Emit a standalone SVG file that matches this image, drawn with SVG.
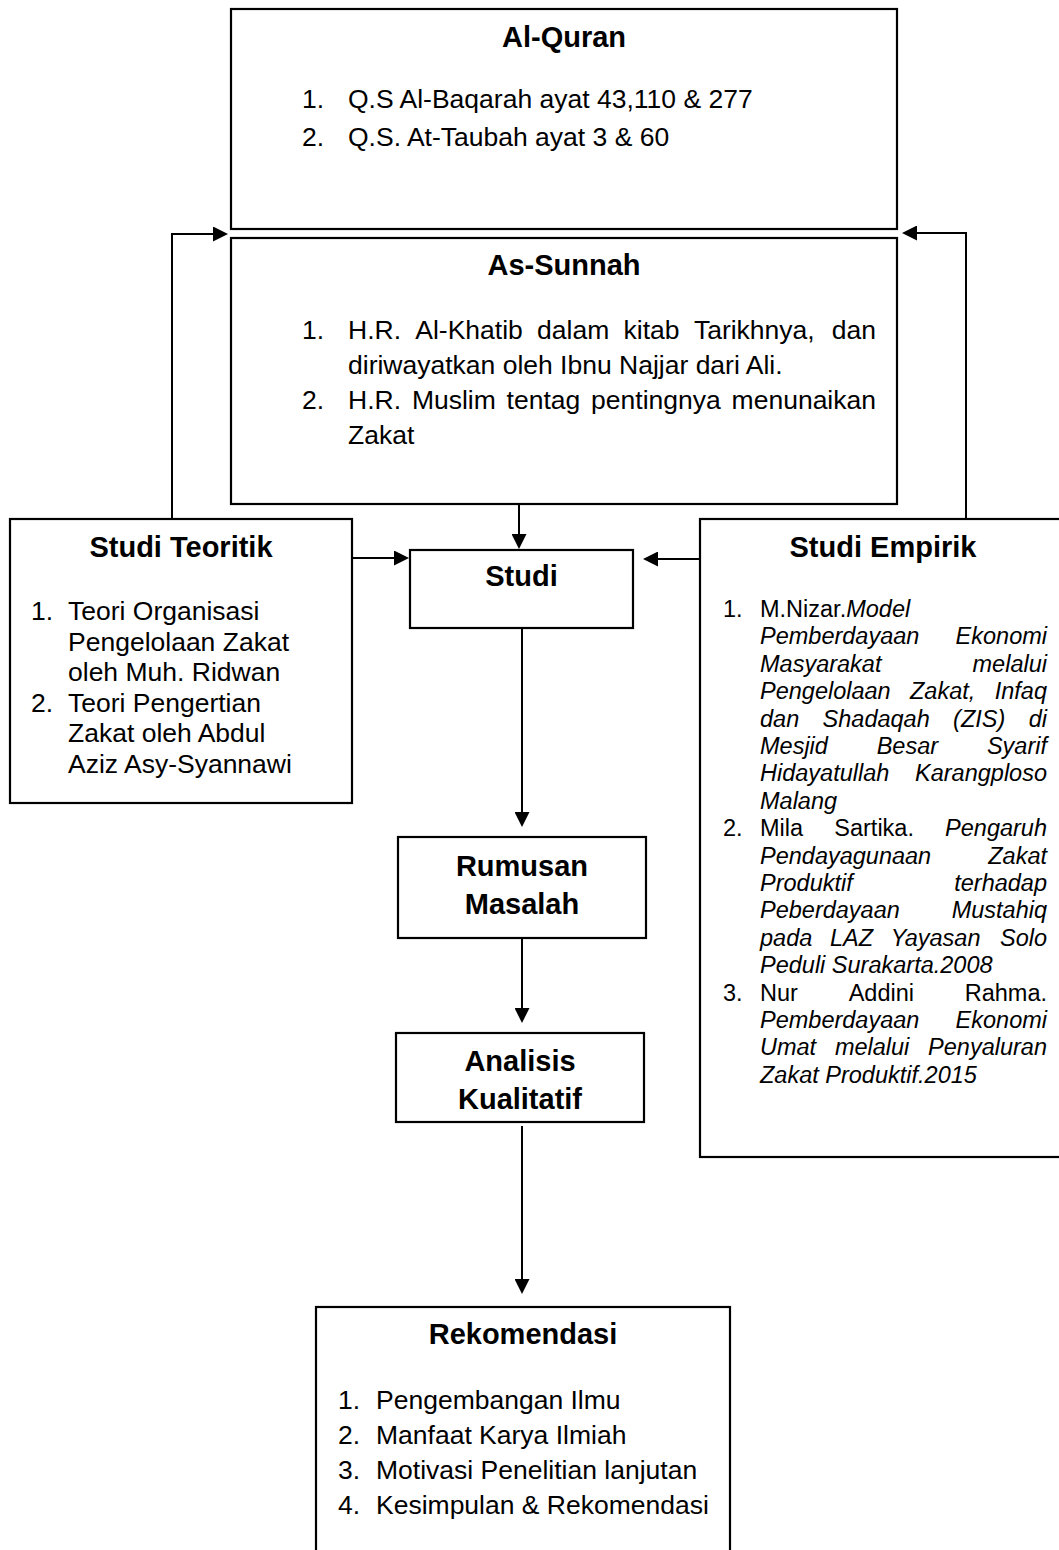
<svg xmlns="http://www.w3.org/2000/svg" width="1059" height="1550" viewBox="0 0 1059 1550">
<style>
text{font-family:"Liberation Sans",Arial,sans-serif;fill:#000}
.t{font-size:29px;font-weight:bold;text-anchor:middle}
.b{font-size:26.5px}
.s{font-size:23.5px}
.i{font-style:italic}
.e{text-anchor:end}
rect{fill:#fff;stroke:#000;stroke-width:2.2}
.c path{fill:none;stroke:#000;stroke-width:2;marker-end:url(#ah)}
</style>
<defs>
<marker id="ah" viewBox="0 0 15 15" refX="12" refY="7.5" markerWidth="15" markerHeight="15" markerUnits="userSpaceOnUse" orient="auto">
<path d="M0,0 L15,7.5 L0,15 z" fill="#000"/>
</marker>
</defs>
<rect x="0" y="0" width="1059" height="1550" style="stroke:none"/>

<g id="alquran">
<rect x="231" y="9" width="666" height="220"/>
<text class="t" x="564" y="47">Al-Quran</text>
<text class="b" x="302" y="108">1.</text>
<text class="b" x="348" y="108">Q.S Al-Baqarah ayat 43,110 &amp; 277</text>
<text class="b" x="302" y="146">2.</text>
<text class="b" x="348" y="146">Q.S. At-Taubah ayat 3 &amp; 60</text>
</g>

<g id="assunnah">
<rect x="231" y="238" width="666" height="266"/>
<text class="t" x="564" y="275">As-Sunnah</text>
<text class="b" x="302" y="339">1.</text>
<text class="b" y="339"><tspan x="348">H.R.</tspan><tspan x="415.3">Al-Khatib</tspan><tspan x="537.1">dalam</tspan><tspan x="623.6">kitab</tspan><tspan x="693.9">Tarikhnya,</tspan><tspan x="876" text-anchor="end">dan</tspan></text>
<text class="b" x="348" y="374">diriwayatkan oleh Ibnu Najjar dari Ali.</text>
<text class="b" x="302" y="409">2.</text>
<text class="b" y="409"><tspan x="348">H.R.</tspan><tspan x="411.9">Muslim</tspan><tspan x="506.6">tentag</tspan><tspan x="591.1">pentingnya</tspan><tspan x="876" text-anchor="end">menunaikan</tspan></text>
<text class="b" x="348" y="444">Zakat</text>
</g>

<g id="studi-teoritik">
<rect x="10" y="519" width="342" height="284"/>
<text class="t" x="181" y="557">Studi Teoritik</text>
<text class="b" x="31" y="620">1.</text>
<text class="b" x="68" y="620">Teori Organisasi</text>
<text class="b" x="68" y="651">Pengelolaan Zakat</text>
<text class="b" x="68" y="681">oleh Muh. Ridwan</text>
<text class="b" x="31" y="712">2.</text>
<text class="b" x="68" y="712">Teori Pengertian</text>
<text class="b" x="68" y="742">Zakat oleh Abdul</text>
<text class="b" x="68" y="773">Aziz Asy-Syannawi</text>
</g>

<g id="studi">
<rect x="410" y="550" width="223" height="78"/>
<text class="t" x="521.5" y="586">Studi</text>
</g>

<g id="studi-empirik">
<rect x="700" y="519" width="380" height="638"/>
<text class="t" x="883" y="557">Studi Empirik</text>
<g class="s">
<text x="723" y="617">1.</text>
<text x="760" y="617">M.Nizar.<tspan class="i">Model</tspan></text>
<text class="i" y="644.4"><tspan x="760">Pemberdayaan</tspan><tspan x="1047" text-anchor="end">Ekonomi</tspan></text>
<text class="i" y="671.8"><tspan x="760">Masyarakat</tspan><tspan x="1047" text-anchor="end">melalui</tspan></text>
<text class="i" y="699.2"><tspan x="760">Pengelolaan</tspan><tspan x="910">Zakat,</tspan><tspan x="1047" text-anchor="end">Infaq</tspan></text>
<text class="i" y="726.6"><tspan x="760">dan</tspan><tspan x="822.6">Shadaqah</tspan><tspan x="953.1">(ZIS)</tspan><tspan x="1047" text-anchor="end">di</tspan></text>
<text class="i" y="754"><tspan x="760">Mesjid</tspan><tspan x="876.7">Besar</tspan><tspan x="1047" text-anchor="end">Syarif</tspan></text>
<text class="i" y="781.4"><tspan x="760">Hidayatullah</tspan><tspan x="1047" text-anchor="end">Karangploso</tspan></text>
<text class="i" x="760" y="808.8">Malang</text>
<text x="723" y="836.2">2.</text>
<text y="836.2"><tspan x="760">Mila</tspan><tspan x="834.3">Sartika.</tspan><tspan class="i" x="1047" text-anchor="end">Pengaruh</tspan></text>
<text class="i" y="863.6"><tspan x="760">Pendayagunaan</tspan><tspan x="1047" text-anchor="end">Zakat</tspan></text>
<text class="i" y="891"><tspan x="760">Produktif</tspan><tspan x="1047" text-anchor="end">terhadap</tspan></text>
<text class="i" y="918.4"><tspan x="760">Peberdayaan</tspan><tspan x="1047" text-anchor="end">Mustahiq</tspan></text>
<text class="i" y="945.8"><tspan x="760">pada</tspan><tspan x="830">LAZ</tspan><tspan x="890.8">Yayasan</tspan><tspan x="1047" text-anchor="end">Solo</tspan></text>
<text class="i" x="760" y="973.2">Peduli Surakarta.2008</text>
<text x="723" y="1000.6">3.</text>
<text y="1000.6"><tspan x="760">Nur</tspan><tspan x="848.7">Addini</tspan><tspan x="1047" text-anchor="end">Rahma.</tspan></text>
<text class="i" y="1028"><tspan x="760">Pemberdayaan</tspan><tspan x="1047" text-anchor="end">Ekonomi</tspan></text>
<text class="i" y="1055.4"><tspan x="760">Umat</tspan><tspan x="834.9">melalui</tspan><tspan x="1047" text-anchor="end">Penyaluran</tspan></text>
<text class="i" x="760" y="1082.8">Zakat Produktif.2015</text>
</g>
</g>

<g id="rumusan-masalah">
<rect x="398" y="837" width="248" height="101"/>
<text class="t" x="522" y="876">Rumusan</text>
<text class="t" x="522" y="914">Masalah</text>
</g>

<g id="analisis-kualitatif">
<rect x="396" y="1033" width="248" height="89"/>
<text class="t" x="520" y="1071">Analisis</text>
<text class="t" x="520" y="1109">Kualitatif</text>
</g>

<g id="rekomendasi">
<rect x="316" y="1307" width="414" height="260"/>
<text class="t" x="523" y="1344">Rekomendasi</text>
<text class="b" x="338" y="1409">1.</text>
<text class="b" x="376" y="1409">Pengembangan Ilmu</text>
<text class="b" x="338" y="1444">2.</text>
<text class="b" x="376" y="1444">Manfaat Karya Ilmiah</text>
<text class="b" x="338" y="1479">3.</text>
<text class="b" x="376" y="1479">Motivasi Penelitian lanjutan</text>
<text class="b" x="338" y="1514">4.</text>
<text class="b" x="376" y="1514">Kesimpulan &amp; Rekomendasi</text>
</g>

<g id="connectors" class="c">
<path d="M172,519 V234 H225"/>
<path d="M966,519 V233 H905"/>
<path d="M519,504 V546"/>
<path d="M352,558 H406"/>
<path d="M700,559 H646"/>
<path d="M522,628 V824"/>
<path d="M522,938 V1020"/>
<path d="M522,1126 V1291"/>
</g>
</svg>
